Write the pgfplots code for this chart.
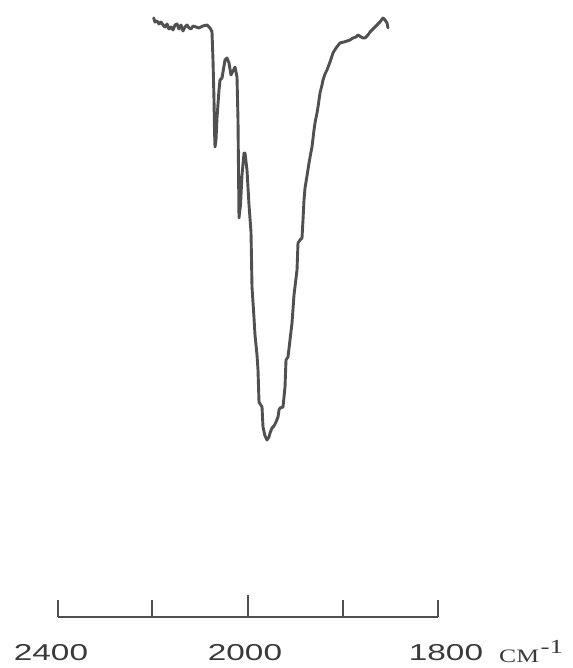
\documentclass[border=0pt]{standalone}
\usepackage{pgfplots}
\pgfplotsset{compat=1.18}
\usepackage{pgfplotstable}
\usepackage{fontspec}
\newfontfamily\labfont[FakeStretch=1.45]{Liberation Sans}
\newfontfamily\unitfont[FakeStretch=1.35]{Liberation Serif}
\definecolor{ink}{HTML}{505050}
\definecolor{txt}{HTML}{3A3A3A}
% x = horizontal pixel position, y = vertical pixel position (from top)
\pgfplotstableread{
x y
153.7 18
155 22
157 21
159 24
161 22
163 25
165 27
167 24
169 29
171 27
173 30
175 25
177 24
179 29
181 25
183 31
185 27
187 25
189 28
191 29
193 26
196 27
199 28
203 26
207 25
210 28
212 32
213 60
214 100
214.5 130
215 147
216 140
217 118
219 90
220 80
222 78
224 66
225 60
227 58
229 63
231 75
233 71
235 67
237 77
238 120
238.5 170
239 218
240.5 205
242 175
244 153
245 153
247 170
249 205
251 232
252 287
254 318
255 335
257 355
258 370
259 402
262 407
263 427
265 436
267 440
269 437
270 433
272 428
274 426
276 422
278 417
279 410
280 408
283 407
285 387
286 360
288 357
290 340
292 323
294 295
297 270
298 243
300 240
302 238
303 220
304 200
305 188
307 176
309 163
311 152
312 147
314 130
315 123
317 113
318 107
320 93
322 85
323 80
325 74
327 70
330 62
333 53
336 48
340 43
344 42
347 41
350 40
353 38
356 37
358 35
361 37
363 38
365 38
368 35
370 32
373 29
377 25
380 22
383 18
385 20
387 23
388 28
}\spectrum
\begin{document}
\begin{tikzpicture}
\begin{axis}[
  scale only axis,
  width=380pt, height=602pt,
  xmin=58, xmax=438, ymin=0, ymax=602,
  axis x line=bottom, axis y line=none,
  axis line style={-, draw=ink, line width=1.8pt},
  xtick={58,152,343,438},
  xticklabels={},
  extra x ticks={248},
  extra x tick labels={},
  extra x tick style={major tick length=22pt},
  tick align=inside,
  major tick length=17pt,
  tick style={draw=ink, line width=1.8pt},
  clip=false,
]
\addplot[ink, line width=2.9pt, line join=round, line cap=round]
  table[x=x, y expr=617-\thisrow{y}] {\spectrum};
\node[anchor=base, txt, font=\labfont\fontsize{23}{26}\selectfont] at (axis cs:51,-43) {2400};
\node[anchor=base, txt, font=\labfont\fontsize{23}{26}\selectfont] at (axis cs:245,-43) {2000};
\node[anchor=base, txt, font=\labfont\fontsize{23}{26}\selectfont] at (axis cs:446,-43) {1800};
\node[anchor=base west, txt, inner sep=0pt, font=\unitfont\fontsize{19}{22}\selectfont] at (axis cs:499,-45) {CM\raisebox{9pt}{\unitfont\fontsize{20}{22}\selectfont\kern1.5pt-1}};
\coordinate (bl) at (axis cs:0,-51);
\coordinate (tr) at (axis cs:572,617);
\end{axis}
\pgfresetboundingbox
\path[use as bounding box] (bl) rectangle (tr);
\end{tikzpicture}
\end{document}
